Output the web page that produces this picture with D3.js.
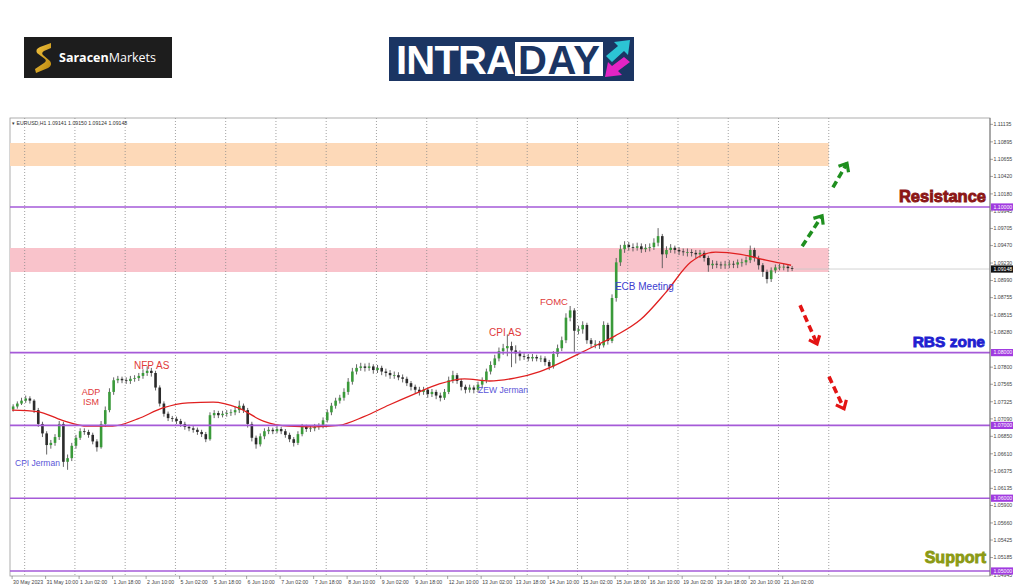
<!DOCTYPE html>
<html>
<head>
<meta charset="utf-8">
<script src="https://cdn.jsdelivr.net/npm/d3@7"></script>
<style>
  body { margin: 0; background: #fff; }
  svg { display: block; font-family: "Liberation Sans", Arial, sans-serif; }
</style>
</head>
<body>
<svg id="chart" width="1024" height="587"></svg>
<script>
// DATA - EURUSD H1, one candle = 2 hourly bars
var firstOpen = 1.0722;
var closes = [1.0726,1.0730,1.0734,1.0737,1.0734,1.0721,1.0702,1.0689,1.0673,1.0676,
  1.0684,1.0702,1.0650,1.0655,1.0672,1.0683,1.0692,1.0691,1.0687,1.0678,
  1.0670,1.0702,1.0721,1.0746,1.0762,1.0764,1.0762,1.0761,1.0764,1.0765,
  1.0768,1.0772,1.0775,1.0772,1.0752,1.0730,1.0716,1.0710,1.0709,1.0706,
  1.0702,1.0698,1.0696,1.0694,1.0691,1.0688,1.0681,1.0714,1.0717,1.0714,
  1.0716,1.0717,1.0718,1.0721,1.0727,1.0721,1.0702,1.0683,1.0674,1.0685,
  1.0692,1.0694,1.0692,1.0695,1.0692,1.0687,1.0681,1.0676,1.0688,1.0698,
  1.0695,1.0696,1.0698,1.0699,1.0707,1.0718,1.0727,1.0734,1.0738,1.0746,
  1.0760,1.0774,1.0779,1.0781,1.0779,1.0781,1.0776,1.0779,1.0774,1.0772,
  1.0769,1.0769,1.0766,1.0764,1.0758,1.0753,1.0749,1.0746,1.0749,1.0743,
  1.0746,1.0741,1.0738,1.0746,1.0762,1.0769,1.0761,1.0753,1.0749,1.0752,
  1.0749,1.0756,1.0762,1.0774,1.0783,1.0792,1.0802,1.0806,1.0809,1.0803,
  1.0799,1.0795,1.0794,1.0792,1.0794,1.0792,1.0792,1.0787,1.0781,1.0798,
  1.0806,1.0817,1.0848,1.0858,1.0830,1.0832,1.0838,1.0817,1.0812,1.0812,
  1.0810,1.0838,1.0816,1.0875,1.0924,1.0942,1.0948,1.0945,1.0944,1.0946,
  1.0942,1.0944,1.0945,1.0951,1.0960,1.0935,1.0941,1.0944,1.0941,1.0939,
  1.0938,1.0938,1.0937,1.0935,1.0937,1.0930,1.0920,1.0922,1.0921,1.0920,
  1.0921,1.0922,1.0921,1.0924,1.0924,1.0927,1.0941,1.0930,1.0920,1.0911,
  1.0901,1.0913,1.0917,1.0918,1.0918,1.0916,1.0915];
var highs = [1.0729,1.0733,1.0738,1.0741,1.0740,1.0736,1.0724,1.0705,1.0692,1.0680,
  1.0688,1.0706,1.0705,1.0660,1.0676,1.0687,1.0696,1.0696,1.0694,1.0690,
  1.0681,1.0706,1.0726,1.0751,1.0766,1.0768,1.0767,1.0766,1.0768,1.0769,
  1.0772,1.0777,1.0781,1.0779,1.0775,1.0755,1.0733,1.0719,1.0713,1.0712,
  1.0709,1.0705,1.0701,1.0699,1.0697,1.0694,1.0691,1.0718,1.0721,1.0720,
  1.0720,1.0721,1.0722,1.0726,1.0734,1.0730,1.0724,1.0705,1.0686,1.0689,
  1.0696,1.0698,1.0697,1.0699,1.0698,1.0695,1.0690,1.0684,1.0692,1.0702,
  1.0701,1.0700,1.0702,1.0703,1.0711,1.0722,1.0731,1.0738,1.0742,1.0751,
  1.0765,1.0779,1.0784,1.0786,1.0785,1.0786,1.0784,1.0783,1.0782,1.0778,
  1.0776,1.0774,1.0773,1.0770,1.0767,1.0761,1.0756,1.0753,1.0753,1.0752,
  1.0750,1.0749,1.0745,1.0750,1.0767,1.0775,1.0772,1.0764,1.0756,1.0756,
  1.0755,1.0760,1.0766,1.0778,1.0788,1.0797,1.0807,1.0812,1.0825,1.0815,
  1.0810,1.0803,1.0799,1.0798,1.0798,1.0797,1.0796,1.0795,1.0790,1.0802,
  1.0811,1.0822,1.0854,1.0864,1.0861,1.0837,1.0843,1.0841,1.0820,1.0817,
  1.0816,1.0843,1.0841,1.0880,1.0930,1.0948,1.0953,1.0952,1.0950,1.0951,
  1.0950,1.0949,1.0950,1.0957,1.0971,1.0963,1.0946,1.0949,1.0947,1.0945,
  1.0943,1.0943,1.0942,1.0941,1.0941,1.0940,1.0933,1.0927,1.0926,1.0925,
  1.0926,1.0927,1.0926,1.0928,1.0929,1.0932,1.0947,1.0944,1.0933,1.0923,
  1.0914,1.0917,1.0921,1.0922,1.0922,1.0921,1.0919];
var lows = [1.0719,1.0723,1.0728,1.0731,1.0730,1.0717,1.0698,1.0684,1.0660,1.0668,
  1.0672,1.0680,1.0643,1.0639,1.0651,1.0668,1.0680,1.0687,1.0683,1.0674,
  1.0664,1.0668,1.0698,1.0718,1.0742,1.0758,1.0758,1.0757,1.0757,1.0760,
  1.0761,1.0764,1.0768,1.0767,1.0748,1.0726,1.0712,1.0706,1.0705,1.0702,
  1.0698,1.0694,1.0692,1.0690,1.0687,1.0684,1.0677,1.0679,1.0710,1.0710,
  1.0711,1.0712,1.0713,1.0714,1.0717,1.0717,1.0697,1.0678,1.0668,1.0671,
  1.0681,1.0688,1.0688,1.0689,1.0688,1.0683,1.0677,1.0671,1.0673,1.0685,
  1.0691,1.0691,1.0692,1.0694,1.0696,1.0704,1.0714,1.0723,1.0730,1.0734,
  1.0742,1.0756,1.0770,1.0775,1.0774,1.0775,1.0771,1.0772,1.0769,1.0767,
  1.0764,1.0764,1.0762,1.0759,1.0754,1.0748,1.0744,1.0741,1.0742,1.0738,
  1.0739,1.0736,1.0733,1.0735,1.0743,1.0758,1.0757,1.0748,1.0744,1.0745,
  1.0744,1.0745,1.0752,1.0758,1.0770,1.0779,1.0788,1.0797,1.0795,1.0780,
  1.0785,1.0789,1.0790,1.0788,1.0788,1.0788,1.0787,1.0782,1.0776,1.0778,
  1.0794,1.0802,1.0813,1.0843,1.0801,1.0825,1.0826,1.0812,1.0807,1.0806,
  1.0805,1.0807,1.0811,1.0813,1.0870,1.0919,1.0937,1.0940,1.0939,1.0940,
  1.0937,1.0938,1.0939,1.0941,1.0946,1.0916,1.0930,1.0937,1.0936,1.0934,
  1.0933,1.0932,1.0932,1.0930,1.0930,1.0925,1.0911,1.0915,1.0916,1.0915,
  1.0915,1.0916,1.0916,1.0916,1.0918,1.0920,1.0923,1.0925,1.0914,1.0904,
  1.0895,1.0897,1.0909,1.0913,1.0913,1.0911,1.0912];

// moving average, one value every 12 bars
var maValues = [1.0721,1.0719,1.0707,1.0699,1.0699,1.0709,1.0724,1.0731,1.0732,1.0724,
  1.0706,1.0699,1.0698,1.0700,1.0712,1.0728,1.0743,1.0757,1.0764,1.0761,
  1.0765,1.0774,1.0789,1.0806,1.0823,1.0845,1.0882,1.0924,1.0938,1.0935,
  1.0927,1.0920];

var timeLabels = ["30 May 2023","31 May 10:00","1 Jun 02:00","1 Jun 18:00","2 Jun 10:00",
  "5 Jun 02:00","5 Jun 18:00","6 Jun 10:00","7 Jun 02:00","7 Jun 18:00","8 Jun 10:00",
  "9 Jun 02:00","9 Jun 18:00","12 Jun 10:00","13 Jun 02:00","13 Jun 18:00","14 Jun 10:00",
  "15 Jun 02:00","15 Jun 18:00","16 Jun 10:00","19 Jun 02:00","19 Jun 18:00","20 Jun 10:00",
  "21 Jun 02:00"];
var priceLabels = ["1.11135","1.10895","1.10655","1.10420","1.10180","1.09945","1.09705",
  "1.09470","1.09230","1.08990","1.08755","1.08515","1.08280","1.07800","1.07565",
  "1.07325","1.07090","1.06850","1.06610","1.06375","1.06135","1.05900","1.05660","1.05425",
  "1.05185","1.04945"];
var levels = [1.10, 1.08, 1.07, 1.06, 1.05];
var lastPrice = 1.09148;
var zones = [[1.10563, 1.10879, "#fdd9b8"], [1.09107, 1.09437, "#f9c3cb"]];

// SETUP
var svg = d3.select("#chart");
var pL = 10, pR = 990, pT = 118, pB = 576;
var x = d3.scaleLinear().domain([-1, 467]).range([pL, pR]);
var y = d3.scaleLinear().domain([1.05, 1.10]).range([571, 207]);
var barsPerCandle = 2, zoneEnd = 390;

svg.append("clipPath").attr("id", "plot")
  .append("rect").attr("x", pL).attr("y", pT).attr("width", pR - pL).attr("height", pB - pT);

// header logos
var saracen = svg.append("g");
saracen.append("rect").attr("x", 24).attr("y", 37).attr("width", 148).attr("height", 41).attr("fill", "#1d1d1d");
var grad = svg.append("defs").append("linearGradient").attr("id", "gold")
  .attr("x1", 0).attr("y1", 0).attr("x2", 1).attr("y2", 1);
grad.append("stop").attr("offset", "0%").attr("stop-color", "#f5c542");
grad.append("stop").attr("offset", "100%").attr("stop-color", "#b8860b");
saracen.append("path")
  .attr("d", "M51,43 L40,47 Q35,49 37,53 L45,59 Q47,61 44,63 L35,69 L36,73 L48,68 Q53,65 50,61 L43,55 Q41,53 44,51 L51,48 Z")
  .attr("fill", "url(#gold)");
var st = saracen.append("text").attr("x", 59).attr("y", 62).attr("fill", "#fff")
  .style("font-family", "'Open Sans', sans-serif").style("font-size", "12.5px");
st.append("tspan").style("font-weight", "bold").text("Saracen");
st.append("tspan").text("Markets");

var intra = svg.append("g");
intra.append("rect").attr("x", 389).attr("y", 37).attr("width", 245).attr("height", 44).attr("fill", "#1b3563");
intra.append("rect").attr("x", 515).attr("y", 42).attr("width", 88).attr("height", 34).attr("fill", "#fff");
intra.append("text").attr("x", 396).attr("y", 74).attr("fill", "#fff")
  .style("font-size", "40px").style("font-weight", "bold").attr("textLength", 119).text("INTRA");
intra.append("text").attr("x", 518).attr("y", 74).attr("fill", "#1b3563")
  .style("font-size", "40px").style("font-weight", "bold").attr("textLength", 82).text("DAY");
intra.append("path").attr("d", "M606,56 L618,46 L614,42 L630,40 L628,55 L624,51 L612,62 Z").attr("fill", "#2cc4d4");
intra.append("path").attr("d", "M630,62 L618,71 L622,75 L605,77 L608,62 L612,66 L624,57 Z").attr("fill", "#e324c4");

// chart frame
svg.append("rect").attr("x", pL).attr("y", pT).attr("width", pR - pL).attr("height", pB - pT)
  .attr("fill", "#fff").attr("stroke", "#9a9a9a").attr("stroke-width", 0.8);

var plot = svg.append("g").attr("clip-path", "url(#plot)");

plot.selectAll(".zone")
  .data(zones)
  .enter().append("rect")
  .attr("class", "zone")
  .attr("x", x(-1))
  .attr("width", x(zoneEnd) - x(-1))
  .attr("y", function (d) { return y(d[1]); })
  .attr("height", function (d) { return y(d[0]) - y(d[1]); })
  .attr("fill", function (d) { return d[2]; });

// daily dotted grid
var gridBars = d3.range(6, zoneEnd + 1, 24);
plot.selectAll(".grid")
  .data(gridBars)
  .enter().append("line")
  .attr("class", "grid")
  .attr("x1", function (d) { return x(d); }).attr("x2", function (d) { return x(d); })
  .attr("y1", pT).attr("y2", pB)
  .attr("stroke", "#8a8a8a").attr("stroke-width", 0.8).attr("stroke-dasharray", "1,2");

// current price line
var lastBar = closes.length * barsPerCandle;
plot.append("line")
  .attr("x1", x(lastBar)).attr("x2", pR)
  .attr("y1", y(lastPrice)).attr("y2", y(lastPrice))
  .attr("stroke", "#c8c8c8").attr("stroke-width", 0.8);

// candles
var candles = closes.map(function (c, i) {
  return { i: i, o: i ? closes[i - 1] : firstOpen, c: c, h: highs[i], l: lows[i] };
});
var cg = plot.selectAll(".candle")
  .data(candles)
  .enter().append("g")
  .attr("class", "candle");
cg.append("line")
  .attr("x1", function (d) { return x(d.i * barsPerCandle + 0.5); })
  .attr("x2", function (d) { return x(d.i * barsPerCandle + 0.5); })
  .attr("y1", function (d) { return y(d.h); })
  .attr("y2", function (d) { return y(d.l); })
  .attr("stroke", "#555").attr("stroke-width", 0.9);
cg.append("rect")
  .attr("x", function (d) { return x(d.i * barsPerCandle + 0.5) - 1.3; })
  .attr("width", 2.6)
  .attr("y", function (d) { return y(Math.max(d.o, d.c)); })
  .attr("height", function (d) { return Math.max(0.8, Math.abs(y(d.o) - y(d.c))); })
  .attr("fill", function (d) { return d.c >= d.o ? "#3a9a3a" : "#2b2b2b"; });

// moving average
var ma = d3.line()
  .x(function (d, i) { return x(i * 12); })
  .y(function (d) { return y(d); })
  .curve(d3.curveMonotoneX);
plot.append("path")
  .datum(maValues)
  .attr("fill", "none")
  .attr("stroke", "#e02020")
  .attr("stroke-width", 1.3)
  .attr("d", ma);

// horizontal levels
plot.selectAll(".level")
  .data(levels)
  .enter().append("line")
  .attr("class", "level")
  .attr("x1", pL).attr("x2", pR)
  .attr("y1", function (d) { return y(d); }).attr("y2", function (d) { return y(d); })
  .attr("stroke", "#a55ad8").attr("stroke-width", 1.6);

// price axis (right)
svg.append("line").attr("x1", pR).attr("x2", pR).attr("y1", pT).attr("y2", pB)
  .attr("stroke", "#666").attr("stroke-width", 0.8);
var ya = svg.append("g");
priceLabels.forEach(function (t) {
  var yy = y(+t);
  ya.append("line").attr("x1", pR).attr("x2", pR + 3).attr("y1", yy).attr("y2", yy)
    .attr("stroke", "#666").attr("stroke-width", 0.6);
  ya.append("text").attr("x", pR + 3.5).attr("y", yy).attr("dy", "0.35em")
    .attr("fill", "#444").style("font-size", "5.2px").text(t);
});
levels.forEach(function (v) {
  ya.append("rect").attr("x", pR + 1).attr("y", y(v) - 3.6).attr("width", 22).attr("height", 7.2)
    .attr("fill", "#a13be0");
  ya.append("text").attr("x", pR + 3.5).attr("y", y(v)).attr("dy", "0.35em")
    .attr("fill", "#fff").style("font-size", "5.2px").text(v.toFixed(5));
});
ya.append("rect").attr("x", pR + 1).attr("y", y(lastPrice) - 3.6).attr("width", 22).attr("height", 7.2)
  .attr("fill", "#111");
ya.append("text").attr("x", pR + 3.5).attr("y", y(lastPrice)).attr("dy", "0.35em")
  .attr("fill", "#fff").style("font-size", "5.2px").text(lastPrice.toFixed(5));

// time axis (bottom)
var xa = svg.append("g");
timeLabels.forEach(function (t, k) {
  var xx = x(k * 16);
  xa.append("line").attr("x1", xx).attr("x2", xx).attr("y1", pB).attr("y2", pB + 3)
    .attr("stroke", "#666").attr("stroke-width", 0.6);
  xa.append("text").attr("x", xx + 1).attr("y", pB + 7.5)
    .attr("fill", "#444").style("font-size", "5.2px").text(t);
});

// chart caption
svg.append("text").attr("x", 12).attr("y", 125).attr("fill", "#333").style("font-size", "5.2px")
  .text("\u25BE EURUSD,H1  1.09141 1.09150 1.09124 1.09148");

// event notes
var notes = [
  { t: "CPI Jerman", b: 1.4, p: 1.06442, c: "#5a55d8", s: 8.5 },
  { t: "ADP", b: 37.7, p: 1.07418, c: "#e03a3a", s: 9, a: "middle" },
  { t: "ISM", b: 37.7, p: 1.07280, c: "#e03a3a", s: 9, a: "middle" },
  { t: "NFP AS", b: 58.2, p: 1.07775, c: "#e03a3a", s: 10 },
  { t: "ZEW Jerman", b: 222.5, p: 1.07445, c: "#5a55d8", s: 8.6 },
  { t: "CPI AS", b: 227.8, p: 1.08228, c: "#e03a3a", s: 10 },
  { t: "FOMC", b: 252.1, p: 1.08654, c: "#e03a3a", s: 9.5 },
  { t: "ECB Meeting", b: 287.9, p: 1.08860, c: "#3d3dd0", s: 10 },
  { t: "Resistance", b: 465.1, p: 1.10069, c: "#8b1616", s: 16.5, w: "bold", a: "end", k: 0.9 },
  { t: "RBS zone", b: 464.6, p: 1.08077, c: "#1f1fd0", s: 15.5, w: "bold", a: "end", k: 0.9 },
  { t: "Support", b: 465.1, p: 1.05110, c: "#8c9a14", s: 16, w: "bold", a: "end", k: 0.9 }
];
svg.selectAll(".note")
  .data(notes)
  .enter().append("text")
  .attr("class", "note")
  .attr("x", function (d) { return x(d.b); })
  .attr("y", function (d) { return y(d.p); })
  .attr("text-anchor", function (d) { return d.a || "start"; })
  .attr("fill", function (d) { return d.c; })
  .attr("stroke", function (d) { return d.k ? d.c : "none"; })
  .attr("stroke-width", function (d) { return d.k || 0; })
  .style("font-size", function (d) { return d.s + "px"; })
  .style("font-weight", function (d) { return d.w || "normal"; })
  .text(function (d) { return d.t; });

// scenario arrows
var arrows = [
  { from: [377.3, 1.0946], to: [386.8, 1.0988], c: "#1f8f1f" },
  { from: [392.0, 1.1027], to: [398.7, 1.1060], c: "#1f8f1f" },
  { from: [376.3, 1.0865], to: [384.4, 1.0812], c: "#e31414" },
  { from: [390.1, 1.0767], to: [397.3, 1.0723], c: "#e31414" }
];
arrows.forEach(function (a) {
  var x1 = x(a.from[0]), y1 = y(a.from[1]), x2 = x(a.to[0]), y2 = y(a.to[1]);
  var ang = Math.atan2(y2 - y1, x2 - x1), len = 9;
  svg.append("line").attr("x1", x1).attr("y1", y1).attr("x2", x2).attr("y2", y2)
    .attr("stroke", a.c).attr("stroke-width", 3.6).attr("stroke-dasharray", "7,4");
  var p1 = [x2 - len * Math.cos(ang - 0.7), y2 - len * Math.sin(ang - 0.7)];
  var p2 = [x2 - len * Math.cos(ang + 0.7), y2 - len * Math.sin(ang + 0.7)];
  svg.append("path").attr("d", "M" + p1 + "L" + x2 + "," + y2 + "L" + p2)
    .attr("fill", "none").attr("stroke", a.c).attr("stroke-width", 3.2);
});
</script>
</body>
</html>
